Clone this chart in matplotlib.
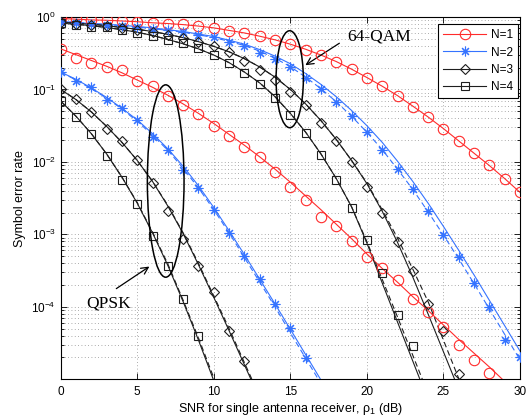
import numpy as np
import matplotlib
matplotlib.use("Agg")
import matplotlib.pyplot as plt
from matplotlib.patches import Ellipse
from matplotlib.lines import Line2D
from matplotlib.ticker import LogLocator, FuncFormatter, NullFormatter, MultipleLocator

plt.rcParams['font.family'] = ['Liberation Sans', 'DejaVu Sans']
plt.rcParams['mathtext.fontset'] = 'custom'
plt.rcParams['mathtext.rm'] = 'Liberation Sans'
plt.rcParams['mathtext.it'] = 'Liberation Sans:italic'

# SNR grid (dB), 1 dB steps
snr = np.arange(0, 31)

# values below are log10(SER)
# --- QPSK: simulated points ---
qpsk_sim_n1 = [-0.44, -0.56, -0.63, -0.69, -0.73, -0.88, -0.95, -1.09, -1.22, -1.34, -1.50, -1.64,
               -1.79, -1.93, -2.14, -2.34, -2.53, -2.76, -2.88, -3.09, -3.31, -3.46, -3.63, -3.89,
               -4.07, -4.28, -4.52, -4.74, -4.91]
qpsk_sim_n2 = [-0.76, -0.89, -0.97, -1.14, -1.25, -1.42, -1.65, -1.84, -2.11, -2.36, -2.66, -2.98,
               -3.30, -3.61, -3.96, -4.29, -4.71]
qpsk_sim_n3 = [-1.00, -1.13, -1.31, -1.55, -1.71, -1.98, -2.29, -2.68, -3.06, -3.44, -3.80, -4.33, -4.75]
qpsk_sim_n4 = [-1.16, -1.38, -1.61, -1.92, -2.25, -2.58, -3.02, -3.43, -3.89, -4.40]

# --- QPSK: exact (solid) ---
qpsk_ex_n1 = [-0.44, -0.52, -0.60, -0.68, -0.77, -0.87, -0.97, -1.08, -1.20, -1.33, -1.47, -1.62,
              -1.77, -1.93, -2.10, -2.28, -2.47, -2.66, -2.86, -3.06, -3.27, -3.47, -3.66, -3.86,
              -4.05, -4.25, -4.45, -4.64, -4.83, -5.03]
qpsk_ex_n2 = [-0.76, -0.86, -0.98, -1.11, -1.26, -1.42, -1.61, -1.82, -2.06, -2.33, -2.63, -2.95,
              -3.28, -3.62, -3.96, -4.31, -4.66, -5.01]
qpsk_ex_n3 = [-1.00, -1.14, -1.31, -1.51, -1.73, -1.98, -2.27, -2.61, -2.99, -3.42, -3.87, -4.33, -4.80, -5.27]
qpsk_ex_n4 = [-1.16, -1.37, -1.61, -1.89, -2.21, -2.57, -2.98, -3.43, -3.93, -4.46, -5.02]

# --- QPSK: approximation (dashed) ---
qpsk_ap_n2 = [-0.76, -0.87, -0.99, -1.12, -1.27, -1.44, -1.63, -1.84, -2.09, -2.36, -2.66, -2.98,
              -3.32, -3.66, -4.00, -4.36, -4.71, -5.06]
qpsk_ap_n3 = [-1.00, -1.14, -1.31, -1.51, -1.73, -1.98, -2.27, -2.60, -2.98, -3.40, -3.85, -4.30, -4.77, -5.24]
qpsk_ap_n4 = [-1.16, -1.37, -1.61, -1.89, -2.21, -2.56, -2.97, -3.41, -3.91, -4.43, -4.98]

# --- 64-QAM: simulated points ---
qam_sim_n1 = [-0.02, -0.03, -0.04, -0.04, -0.05, -0.065, -0.08, -0.09, -0.10, -0.12, -0.146, -0.19,
              -0.225, -0.26, -0.32, -0.37, -0.45, -0.525, -0.62, -0.72, -0.836, -0.95, -1.09, -1.24,
              -1.385, -1.54, -1.71, -1.88, -2.04, -2.24, -2.42]
qam_sim_n2 = [-0.065, -0.087, -0.097, -0.11, -0.124, -0.142, -0.166, -0.18, -0.211, -0.249, -0.276,
              -0.35, -0.40, -0.49, -0.584, -0.695, -0.847, -0.994, -1.17, -1.37, -1.584, -1.832,
              -2.10, -2.376, -2.68, -3.01, -3.31, -3.67, -4.00, -4.46, -4.69]
qam_sim_n3 = [-0.065, -0.097, -0.11, -0.124, -0.156, -0.18, -0.211, -0.249, -0.294, -0.341, -0.405,
              -0.488, -0.603, -0.732, -0.87, -1.034, -1.215, -1.46, -1.708, -2.00, -2.343, -2.703,
              -3.10, -3.50, -3.96, -4.335, -4.926]
qam_sim_n4 = [-0.087, -0.11, -0.134, -0.142, -0.18, -0.225, -0.262, -0.318, -0.363, -0.432, -0.525,
              -0.64, -0.769, -0.925, -1.123, -1.354, -1.607, -1.906, -2.251, -2.629, -3.075, -3.536,
              -4.11, -4.54]

# --- 64-QAM: exact (solid) ---
qam_ex_n1 = [-0.02, -0.03, -0.04, -0.045, -0.055, -0.065, -0.08, -0.09, -0.105, -0.125, -0.15, -0.185,
             -0.22, -0.265, -0.315, -0.375, -0.445, -0.525, -0.615, -0.72, -0.835, -0.955, -1.085,
             -1.23, -1.38, -1.54, -1.71, -1.88, -2.05, -2.23, -2.42]
qam_ex_n2 = [-0.06, -0.075, -0.09, -0.10, -0.115, -0.13, -0.15, -0.175, -0.20, -0.235, -0.27, -0.32,
             -0.375, -0.45, -0.54, -0.645, -0.78, -0.93, -1.10, -1.29, -1.50, -1.73, -1.99, -2.27,
             -2.57, -2.89, -3.22, -3.56, -3.91, -4.26, -4.61]
qam_ex_n3 = [-0.07, -0.085, -0.10, -0.12, -0.145, -0.17, -0.20, -0.24, -0.285, -0.34, -0.405, -0.48,
             -0.575, -0.69, -0.83, -1.00, -1.20, -1.43, -1.69, -1.98, -2.30, -2.68, -3.11, -3.59,
             -4.10, -4.62, -5.14]
qam_ex_n4 = [-0.085, -0.10, -0.12, -0.145, -0.175, -0.21, -0.255, -0.31, -0.37, -0.44, -0.525, -0.63,
             -0.76, -0.91, -1.10, -1.33, -1.59, -1.89, -2.23, -2.62, -3.12, -3.67, -4.21, -4.75, -5.29]

# --- 64-QAM: approximation (dashed) ---
qam_ap_n2 = [-0.06, -0.075, -0.09, -0.105, -0.12, -0.14, -0.16, -0.185, -0.21, -0.245, -0.285, -0.335,
             -0.395, -0.47, -0.57, -0.685, -0.83, -0.99, -1.17, -1.37, -1.59, -1.83, -2.10, -2.38,
             -2.69, -3.01, -3.34, -3.68, -4.03, -4.38, -4.73]
qam_ap_n3 = [-0.07, -0.085, -0.10, -0.12, -0.145, -0.17, -0.20, -0.24, -0.285, -0.34, -0.405, -0.48,
             -0.575, -0.69, -0.83, -1.00, -1.20, -1.43, -1.69, -1.98, -2.29, -2.66, -3.05, -3.48,
             -3.93, -4.46, -4.99, -5.52]
qam_ap_n4 = [-0.085, -0.10, -0.12, -0.145, -0.175, -0.21, -0.255, -0.31, -0.37, -0.44, -0.525, -0.63,
             -0.76, -0.91, -1.10, -1.33, -1.59, -1.89, -2.23, -2.62, -3.10, -3.62, -4.14, -4.67, -5.20]

legend_labels = ['N=1', 'N=2', 'N=3', 'N=4']

red = '#ff2b2b'
blue = '#3573ff'
blk = '#1e1e1e'
styles = [
    dict(color=red, marker='o', ms=7.5, mfc='none', mew=0.8),
    dict(color=blue, marker=(8, 2, 0), ms=7, mew=0.8),
    dict(color=blk, marker='D', ms=5.5, mfc='none', mew=0.8),
    dict(color=blk, marker='s', ms=5.5, mfc='none', mew=0.8),
]

fig = plt.figure(figsize=(5.27, 4.2), dpi=100)
ax = fig.add_axes([0.1152, 0.0969, 0.8715, 0.8626])

exact = [qpsk_ex_n1, qpsk_ex_n2, qpsk_ex_n3, qpsk_ex_n4, qam_ex_n1, qam_ex_n2, qam_ex_n3, qam_ex_n4]
approx = [None, qpsk_ap_n2, qpsk_ap_n3, qpsk_ap_n4, None, qam_ap_n2, qam_ap_n3, qam_ap_n4]
sims = [qpsk_sim_n1, qpsk_sim_n2, qpsk_sim_n3, qpsk_sim_n4, qam_sim_n1, qam_sim_n2, qam_sim_n3, qam_sim_n4]

for i in range(8):
    st = styles[i % 4]
    c = st['color']
    ex = np.array(exact[i])
    ax.plot(snr[:len(ex)], 10.0 ** ex, color=c, lw=0.8, zorder=3)
    if approx[i] is not None:
        ap = np.array(approx[i])
        ax.plot(snr[:len(ap)], 10.0 ** ap, color=c, lw=0.8, ls=(0, (5, 3)), zorder=3)
    sm = np.array(sims[i])
    ax.plot(snr[:len(sm)], 10.0 ** sm, ls='none', zorder=4, **st)

ax.set_yscale('log')
ax.set_xlim(0, 30)
ax.set_ylim(1e-5, 1)
ax.xaxis.set_major_locator(MultipleLocator(5))
ax.yaxis.set_major_locator(LogLocator(base=10, numticks=10))
ax.yaxis.set_minor_locator(LogLocator(base=10, subs=np.arange(2, 10), numticks=20))
ax.yaxis.set_minor_formatter(NullFormatter())


def ylab(v, pos):
    e = int(round(np.log10(v)))
    if e <= -5:
        return ''
    return r'$10^{%d}$' % e


ax.yaxis.set_major_formatter(FuncFormatter(ylab))
ax.tick_params(which='both', direction='in', top=True, right=True, labelsize=8.5, width=0.6)
ax.tick_params(which='major', length=4)
ax.tick_params(which='minor', length=2)
ax.tick_params(axis='x', pad=5)
for s in ax.spines.values():
    s.set_linewidth(0.8)

ax.grid(True, which='major', ls=(0, (1, 3)), color='#909090', lw=0.6)
ax.grid(True, which='minor', axis='y', ls=(0, (1, 3)), color='#909090', lw=0.6)
ax.set_axisbelow(True)

ax.set_xlabel(r'SNR for single antenna receiver, ρ$_1$ (dB)', fontsize=9, labelpad=2)
ax.set_ylabel('Symbol error rate', fontsize=9, labelpad=4)

handles = [Line2D([], [], lw=0.8, **st) for st in styles]
leg = ax.legend(handles, legend_labels, loc='upper right', bbox_to_anchor=(0.996, 0.981),
                borderaxespad=0, fontsize=8.5, handlelength=3.6, fancybox=False, framealpha=1,
                edgecolor='k', labelspacing=0.45, borderpad=0.45, handletextpad=0.4)
leg.get_frame().set_linewidth(0.8)

# annotations
serif = ['Liberation Serif', 'DejaVu Serif']
ax.add_patch(Ellipse((0.2286, 0.5473), 0.0799, 0.531, transform=ax.transAxes,
                     fill=False, ec='k', lw=1.1, zorder=5))
ax.add_patch(Ellipse((0.4986, 0.8283), 0.0594, 0.2677, transform=ax.transAxes,
                     fill=False, ec='k', lw=1.1, zorder=5))
ax.annotate('', xy=(0.5275, 0.8628), xytext=(0.6118, 0.9318), xycoords='axes fraction',
            arrowprops=dict(arrowstyle='->,head_length=0.5,head_width=0.25', color='k', lw=0.9))
ax.annotate('', xy=(0.1981, 0.3155), xytext=(0.1160, 0.2460), xycoords='axes fraction',
            arrowprops=dict(arrowstyle='->,head_length=0.5,head_width=0.25', color='k', lw=0.9))
ax.text(0.6249, 0.9456, '64-QAM', transform=ax.transAxes, family=serif, fontsize=12.5,
        ha='left', va='center')
ax.text(0.0566, 0.2106, 'QPSK', transform=ax.transAxes, family=serif, fontsize=12.5,
        ha='left', va='center')

fig.savefig('out.png', dpi=100)
